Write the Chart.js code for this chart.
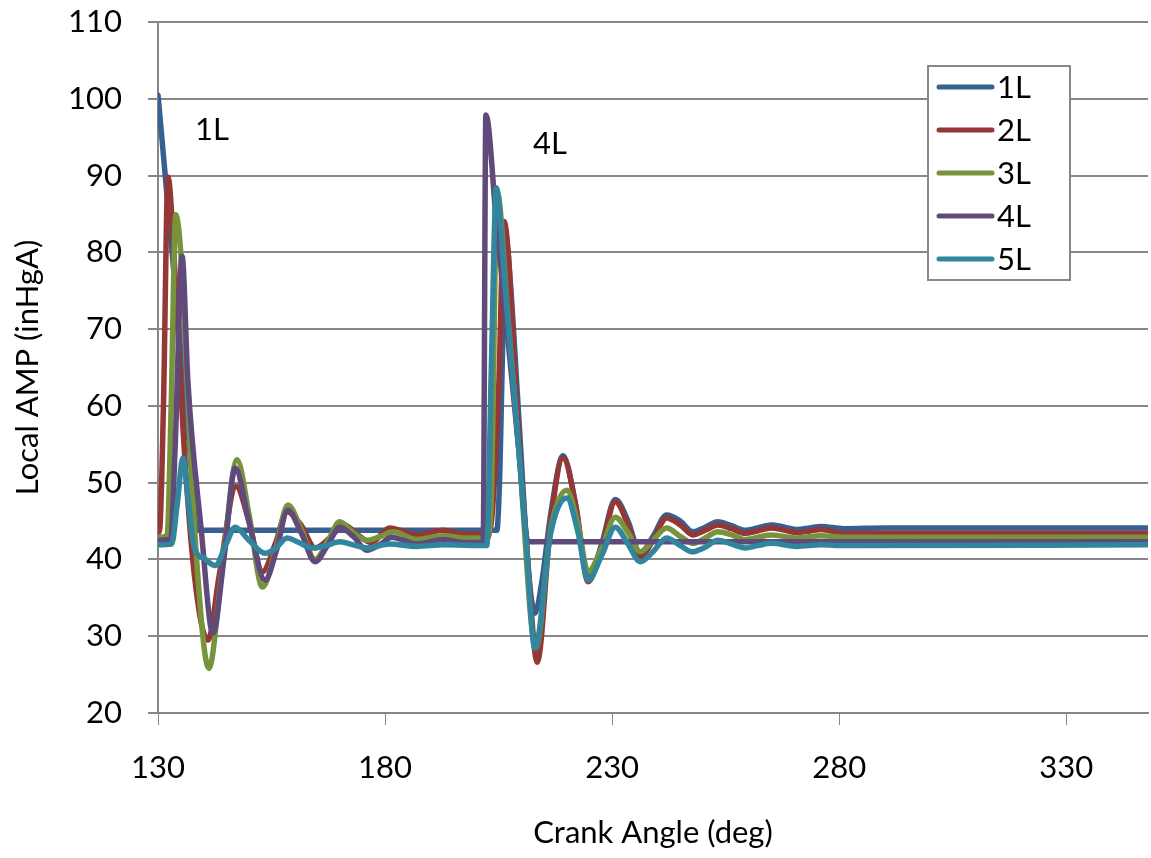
<!DOCTYPE html>
<html>
<head>
<meta charset="utf-8">
<title>Local AMP vs Crank Angle</title>
<script src="https://cdn.jsdelivr.net/npm/chart.js@4.4.1/dist/chart.umd.min.js"></script>
<style>
    html, body { margin: 0; padding: 0; background: #ffffff; }
    #wrap { width: 1151px; height: 858px; position: relative; }
</style>
</head>
<body>
<div id="wrap"><canvas id="amp-chart" width="1151" height="858"></canvas></div>
<script>
/* Local manifold pressure per runner */

const seriesNames = ['1L', '2L', '3L', '4L', '5L'];
const seriesColors = ['#376092', '#953735', '#77933C', '#604A7B', '#31859C'];

const angle1L = [130, 132, 134.5, 137, 138.6, 150, 204.6, 205.3, 205.9, 206.8, 207.6, 209.5, 211.7, 213, 214.5, 216.5, 219.2, 222, 224.7, 227.7, 230.7, 233.5, 236.2, 239, 242, 245, 247.8, 250.5, 253.3, 256.3, 259.3, 262, 265, 268, 270.7, 273.5, 276, 281, 290, 348];
const amp1L = [100.5, 87.3, 70.8, 54.3, 43.8, 43.8, 43.8, 52, 68, 81, 76, 58, 37.7, 33, 37, 46, 53.5, 47, 37.5, 42, 47.8, 45, 40.8, 43, 45.8, 45, 43.6, 44.2, 44.9, 44.4, 43.8, 44.1, 44.5, 44.2, 43.9, 44.1, 44.3, 44.0, 44.1, 44.1];

const angle2L = [130, 130.4, 131.2, 132.2, 133.5, 135.5, 138, 141, 143.5, 147.2, 150, 153, 155.8, 158.4, 161.5, 164.6, 167.8, 171, 174, 177, 181, 187, 192.8, 197, 202.6, 203.6, 205, 206.2, 209.3, 211.4, 213.5, 216.5, 219.2, 222, 224.7, 227.7, 230.7, 233.5, 236.2, 239, 242, 245, 247.8, 250.5, 253.3, 256.3, 259.3, 262, 265, 268, 270.7, 273.5, 276, 281, 348];
const amp2L = [43.4, 44, 60, 89.8, 80, 57, 38, 29.5, 38, 49.5, 45, 38.4, 42, 46.2, 44.5, 41.5, 42.8, 44.5, 43.2, 42.2, 44.1, 43.2, 43.8, 43.3, 43.3, 46, 62, 84, 57, 40, 26.6, 45, 53.2, 47, 37.1, 41.5, 47.5, 44.5, 40.3, 42.5, 45.4, 44.5, 43.2, 43.8, 44.5, 44, 43.4, 43.7, 44.1, 43.8, 43.5, 43.7, 43.9, 43.4, 43.4];

const angle3L = [130, 132, 132.9, 133.9, 135, 136.4, 138.5, 141.2, 144, 147.4, 150, 153, 155.8, 158.6, 161.5, 164.6, 167.5, 170, 173, 176, 179, 181.8, 187, 193, 197, 202.6, 203.4, 204.7, 207, 209.5, 213.2, 216.5, 220, 222.5, 224.7, 227.7, 230.7, 233.5, 236.2, 239, 242, 245, 247.8, 250.5, 253.3, 256.3, 259.3, 265, 270.7, 276, 281, 348];
const amp3L = [42.9, 43.1, 60, 84.9, 80, 63, 40, 25.8, 38, 53, 46, 36.4, 41, 47.1, 44, 40, 42.5, 44.9, 43.5, 42.5, 43, 43.6, 42.6, 43.1, 42.8, 42.8, 48, 87.8, 72, 54, 28.5, 44, 49, 44.5, 38.4, 41.5, 45.5, 43.5, 41, 42.5, 44.1, 43, 42.1, 42.8, 43.6, 43.2, 42.6, 43.2, 42.8, 43.1, 42.9, 42.9];

const angle4L = [130, 132.8, 133.8, 135.3, 136.6, 139.5, 142.1, 144.5, 147, 150, 153.6, 156, 158.6, 161.5, 164.6, 167.5, 170, 173, 176, 179, 181.5, 184, 187, 193, 197, 201.6, 202.2, 204.5, 207, 209.5, 211.5, 348];
const amp4L = [42.5, 42.6, 55, 79.5, 63, 44, 30.4, 40, 51.9, 45, 37.3, 41, 46.4, 43.5, 39.7, 42, 44.2, 43, 41.2, 42, 42.9, 42.5, 42, 42.6, 42.2, 42.2, 97.9, 84, 69, 54, 42.3, 42.3];

const angle5L = [130, 133, 134.2, 135.5, 136.6, 138, 140, 142.6, 145, 147, 150, 153.6, 156, 158.4, 161, 164, 167, 170, 173, 176, 181, 187, 193, 202.4, 203.4, 204.5, 206.5, 208.5, 211, 213, 216.5, 220, 222.5, 224.7, 227.7, 230.7, 233.5, 236.2, 239, 242, 245, 247.6, 250.5, 253.3, 256.3, 259.3, 262, 265, 270.7, 276, 281, 348];
const amp5L = [41.9, 42, 47, 53.2, 48, 41.5, 40.2, 39.2, 42, 44.2, 42.5, 40.8, 41.5, 42.8, 42.2, 41.5, 41.8, 42.3, 41.9, 41.5, 42, 41.7, 41.9, 41.8, 65, 88.4, 75, 61, 43, 28.4, 43.5, 48, 43.5, 37.3, 40.5, 44.2, 42, 39.7, 41, 42.8, 41.8, 41, 41.6, 42.5, 42, 41.5, 41.8, 42.1, 41.7, 41.9, 41.8, 41.9];

const xTickValues = [130, 180, 230, 280, 330];
const yTickValues = [20, 30, 40, 50, 60, 70, 80, 90, 100, 110];

// in-plot event labels (angle, amp)
const eventLabels = ['1L', '4L'];
const eventAngles = [141.9, 216.3];
const eventAmps = [95.9, 94.1];

const angleSets = [angle1L, angle2L, angle3L, angle4L, angle5L];
const ampSets = [amp1L, amp2L, amp3L, amp4L, amp5L];

const FONT = 'Lato, "Open Sans", sans-serif';
const GRID = '#878787';

function toPoints(xs, ys) {
    return xs.map((x, i) => ({ x: x, y: ys[i] }));
}

const overlayPlugin = {
    id: 'overlay',
    afterDatasetsDraw(chart) {
        const ctx = chart.ctx;
        const xs = chart.scales.x;
        const ys = chart.scales.y;
        ctx.save();
        ctx.font = '31px ' + FONT;
        ctx.fillStyle = '#000000';
        ctx.textAlign = 'center';
        ctx.textBaseline = 'middle';
        eventLabels.forEach((label, i) => {
            ctx.fillText(label, xs.getPixelForValue(eventAngles[i]), ys.getPixelForValue(eventAmps[i]));
        });

        // legend box
        const box = { left: 928, top: 66, width: 142, height: 214 };
        ctx.fillStyle = '#ffffff';
        ctx.fillRect(box.left, box.top, box.width, box.height);
        ctx.strokeStyle = GRID;
        ctx.lineWidth = 2;
        ctx.strokeRect(box.left, box.top, box.width, box.height);

        ctx.textAlign = 'left';
        ctx.lineCap = 'round';
        chart.data.datasets.forEach((ds, i) => {
            const rowY = box.top + 21 + i * 43;
            ctx.strokeStyle = ds.borderColor;
            ctx.lineWidth = 5;
            ctx.beginPath();
            ctx.moveTo(box.left + 11, rowY);
            ctx.lineTo(box.left + 64, rowY);
            ctx.stroke();
            ctx.fillStyle = '#000000';
            ctx.fillText(ds.label, box.left + 69, rowY + 1);
        });
        ctx.restore();
    }
};

const datasets = seriesNames.map((name, i) => ({
    label: name,
    data: toPoints(angleSets[i], ampSets[i]),
    borderColor: seriesColors[i],
    backgroundColor: seriesColors[i],
    borderWidth: 5.5,
    pointRadius: 0,
    fill: false,
    cubicInterpolationMode: 'monotone',
    borderCapStyle: 'round',
    borderJoinStyle: 'round',
    order: seriesNames.length - i
}));

new Chart(document.getElementById('amp-chart').getContext('2d'), {
    type: 'line',
    data: { datasets: datasets },
    options: {
        responsive: false,
        animation: false,
        layout: { padding: { top: 22, right: 3, bottom: 0, left: 0 } },
        plugins: {
            legend: { display: false },
            tooltip: { enabled: false }
        },
        scales: {
            x: {
                type: 'linear',
                min: 130,
                max: 348,
                afterBuildTicks: (scale) => { scale.ticks = xTickValues.map((v) => ({ value: v })); },
                afterFit: (scale) => {
                    scale.height = 145;
                    scale.paddingLeft = 0;
                    scale.paddingRight = 0;
                },
                grid: { drawOnChartArea: false, color: GRID, lineWidth: 1, tickLength: 12 },
                border: { color: GRID, width: 2 },
                ticks: { color: '#000000', font: { family: FONT, size: 31 }, padding: 24, maxRotation: 0 },
                title: {
                    display: true,
                    text: 'Crank Angle (deg)',
                    color: '#000000',
                    font: { family: FONT, size: 31 },
                    padding: { top: 0, bottom: 6 }
                }
            },
            y: {
                type: 'linear',
                min: 20,
                max: 110,
                afterBuildTicks: (scale) => { scale.ticks = yTickValues.map((v) => ({ value: v })); },
                afterFit: (scale) => {
                    scale.width = 158;
                    scale.paddingTop = 0;
                    scale.paddingBottom = 0;
                },
                grid: { color: GRID, lineWidth: 2, tickLength: 10 },
                border: { color: GRID, width: 2 },
                ticks: { color: '#000000', font: { family: FONT, size: 31 }, padding: 26 },
                title: {
                    display: true,
                    text: 'Local AMP (inHgA)',
                    color: '#000000',
                    font: { family: FONT, size: 31 },
                    padding: { top: 9, bottom: 0 }
                }
            }
        }
    },
    plugins: [overlayPlugin]
});
</script>
</body>
</html>
